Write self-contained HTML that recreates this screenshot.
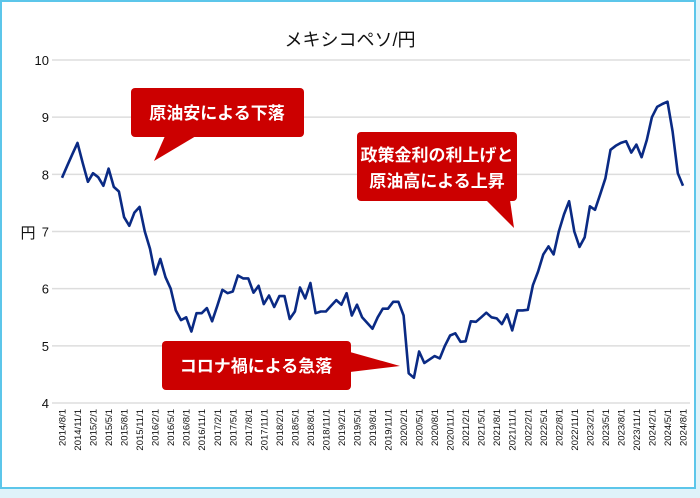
<!DOCTYPE html>
<html><head><meta charset="utf-8"><style>
body{margin:0;background:#dff3fa;width:700px;height:498px;overflow:hidden;font-family:"Liberation Sans","Noto Sans CJK JP",sans-serif}
svg{display:block}
</style></head><body>
<svg width="700" height="498" xmlns="http://www.w3.org/2000/svg">
<rect x="1" y="1" width="694" height="487" fill="#fff" stroke="#5cc6ea" stroke-width="2"/>
<text x="350" y="46" text-anchor="middle" font-size="18" fill="#111">メキシコペソ/円</text>
<text x="28" y="238" text-anchor="middle" font-size="15" fill="#111">円</text>
<g id="grid"></g><g id="xl"></g>
<path id="line" fill="none" stroke="#0a2a84" stroke-width="2.6" stroke-linejoin="round"/>
<g>
<rect x="131" y="88" width="173" height="49" rx="4" fill="#cc0000"/>
<polygon points="165,136 196,136 154,161" fill="#cc0000"/>
<text x="217" y="119" text-anchor="middle" font-size="17" font-weight="bold" fill="#fff">原油安による下落</text></g>
<g>
<rect x="357" y="132" width="160" height="69" rx="4" fill="#cc0000"/>
<polygon points="486,200 510,200 514,228" fill="#cc0000"/>
<text x="437" y="161" text-anchor="middle" font-size="17" font-weight="bold" fill="#fff">政策金利の利上げと</text>
<text x="437" y="187" text-anchor="middle" font-size="17" font-weight="bold" fill="#fff">原油高による上昇</text></g>
<g>
<rect x="162" y="341" width="189" height="49" rx="4" fill="#cc0000"/>
<polygon points="350,352 350,372 400,366" fill="#cc0000"/>
<text x="256" y="372" text-anchor="middle" font-size="17" font-weight="bold" fill="#fff">コロナ禍による急落</text></g>
</svg>
<script>
const yTicks=[4,5,6,7,8,9,10];
const values=[7.94,8.15,8.35,8.55,8.2,7.87,8.02,7.95,7.8,8.1,7.78,7.7,7.25,7.1,7.33,7.43,7.0,6.7,6.25,6.52,6.2,6.0,5.62,5.45,5.5,5.25,5.57,5.57,5.66,5.43,5.7,5.98,5.92,5.95,6.23,6.18,6.18,5.93,6.05,5.73,5.88,5.68,5.87,5.87,5.47,5.6,6.02,5.83,6.1,5.57,5.6,5.6,5.7,5.8,5.72,5.92,5.53,5.72,5.5,5.4,5.3,5.5,5.65,5.65,5.77,5.77,5.53,4.52,4.44,4.9,4.7,4.76,4.82,4.78,5.0,5.18,5.22,5.07,5.08,5.43,5.42,5.5,5.58,5.5,5.48,5.38,5.55,5.27,5.62,5.62,5.63,6.06,6.3,6.6,6.74,6.6,7.0,7.3,7.53,7.0,6.73,6.9,7.44,7.38,7.65,7.93,8.43,8.5,8.55,8.58,8.38,8.52,8.3,8.6,9.0,9.18,9.23,9.27,8.75,8.02,7.8];
const startYear=2014,startMonth=8;
const NS="http://www.w3.org/2000/svg";
const x=i=>62+i*(621/120);
const y=v=>403-(v-4)*(343/6);
const g=document.getElementById('grid');
yTicks.forEach(t=>{
 const l=document.createElementNS(NS,'line');
 l.setAttribute('x1',52);l.setAttribute('x2',690);l.setAttribute('y1',y(t));l.setAttribute('y2',y(t));
 l.setAttribute('stroke','#dddddd');l.setAttribute('stroke-width','1.5');
 
 
 g.appendChild(l);
 const tx=document.createElementNS(NS,'text');
 tx.setAttribute('x',49);tx.setAttribute('y',y(t)+5);tx.setAttribute('text-anchor','end');tx.setAttribute('font-size','13');tx.setAttribute('fill','#111');
 tx.textContent=t;
 
 
 g.appendChild(tx);
});
const xl=document.getElementById('xl');
for(let i=0;i<values.length;i+=3){
 const m=startMonth-1+i, yr=startYear+Math.floor(m/12), mo=m%12+1;
 const tx=document.createElementNS(NS,'text');
 tx.setAttribute('transform',`translate(${x(i)+3.5},409) rotate(-90)`);
 tx.setAttribute('text-anchor','end');tx.setAttribute('font-size','9.5');tx.setAttribute('fill','#111');
 tx.textContent=`${yr}/${mo}/1`;
 
 
 xl.appendChild(tx);
}
document.getElementById('line').setAttribute('d',values.map((v,i)=>(i?'L':'M')+x(i).toFixed(1)+','+y(v).toFixed(1)).join(''));
</script>
</body></html>
